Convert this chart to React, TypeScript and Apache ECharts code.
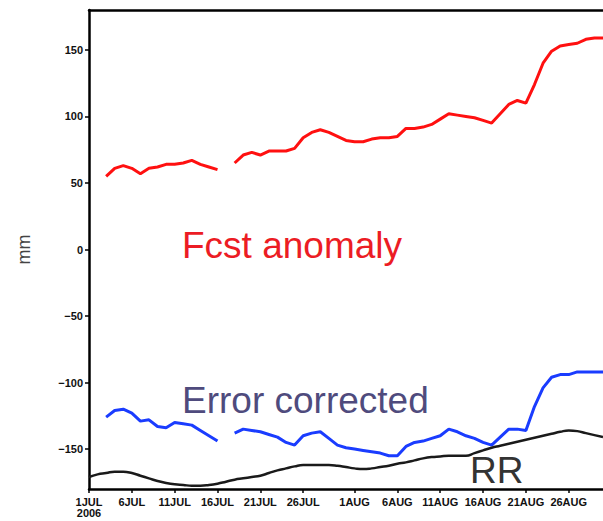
import React, { useEffect, useRef } from "react";
import * as echarts from "echarts";

// Days from 1 JUL 2006 to 30 AUG 2006
const dayLabels: string[] = [];
for (let d = 1; d <= 31; d++) dayLabels.push(d + "JUL");
for (let d = 1; d <= 30; d++) dayLabels.push(d + "AUG");

const tickDays = ["1JUL", "6JUL", "11JUL", "16JUL", "21JUL", "26JUL", "1AUG", "6AUG", "11AUG", "16AUG", "21AUG", "26AUG"];
const yTicks = [-150, -100, -50, 0, 50, 100, 150];

const fcstAnomaly: (number | null)[] = [
  null, null, 55, 61, 63, 61, 57, 61, 62, 64,
  64, 65, 67, 64, 62, 60, null, 65, 71, 73,
  71, 74, 74, 74, 76, 84, 88, 90, 88, 85,
  82, 81, 81, 83, 84, 84, 85, 91, 91, 92,
  94, 98, 102, 101, 100, 99, 97, 95, 102, 109,
  112, 110, 124, 140, 149, 153, 154, 155, 158, 159,
  159,
];

const errorCorrected: (number | null)[] = [
  null, null, -126, -121, -120, -123, -129, -128, -133, -134,
  -130, -131, -132, -136, -140, -144, null, -138, -135, -136,
  -137, -139, -141, -145, -147, -140, -138, -137, -142, -147,
  -149, -150, -151, -152, -153, -155, -155, -148, -145, -144,
  -142, -140, -135, -137, -140, -142, -145, -147, -141, -135,
  -135, -136, -118, -104, -96, -94, -94, -92, -92, -92,
  -92,
];

const rr: number[] = [
  -171, -169, -168, -167, -167, -168, -170, -172, -174, -175.5,
  -176.5, -177, -177.5, -177.5, -177, -176, -174.5, -173, -172, -171,
  -170, -168, -166, -164.5, -163, -162, -162, -162, -162, -162.5,
  -163.5, -164.5, -165, -164.5, -163.5, -162.5, -161, -160, -158.5, -157,
  -156, -155.5, -155, -155, -155, -153, -151, -149, -147.5, -146,
  -144.5, -143, -141.5, -140, -138.5, -137, -136, -136.5, -138, -139.5,
  -141,
];

export default function App() {
  const ref = useRef<HTMLDivElement>(null);
  useEffect(() => {
    if (!ref.current) return;
    const chart = echarts.init(ref.current, undefined, { renderer: "svg" });
    const isTick = (i: number) => tickDays.indexOf(dayLabels[i]) >= 0;
    const font = "'Liberation Sans', Arial, Helvetica, sans-serif";
    chart.setOption({
      animation: false,
      backgroundColor: "#ffffff",
      grid: { left: 89, right: 0, top: 10, bottom: 32, containLabel: false },
      xAxis: [
        {
          type: "category",
          data: dayLabels,
          boundaryGap: false,
          position: "bottom",
          axisLine: { show: true, onZero: false, lineStyle: { color: "#000", width: 2.5 } },
          axisTick: {
            show: true,
            interval: (i: number) => isTick(i),
            length: 4,
            lineStyle: { color: "#000", width: 1.5 },
          },
          axisLabel: {
            interval: (i: number) => isTick(i),
            formatter: (v: string) => (v === "1JUL" ? "1JUL\n2006" : v),
            color: "#111",
            fontSize: 11,
            fontWeight: "bold",
            fontFamily: font,
            margin: 7,
            lineHeight: 11,
          },
          splitLine: { show: false },
        },
        {
          type: "category",
          data: dayLabels,
          boundaryGap: false,
          position: "top",
          axisLine: { show: true, onZero: false, lineStyle: { color: "#000", width: 2.5 } },
          axisTick: { show: false },
          axisLabel: { show: false },
          splitLine: { show: false },
        },
      ],
      yAxis: {
        type: "value",
        min: -180,
        max: 180,
        name: "mm",
        nameLocation: "middle",
        nameRotate: 90,
        nameGap: 56,
        nameTextStyle: { color: "#444", fontSize: 18, fontFamily: font },
        axisLine: { show: true, lineStyle: { color: "#000", width: 2.5 } },
        axisTick: {
          show: true,
          length: 4,
          customValues: yTicks,
          lineStyle: { color: "#000", width: 1.5 },
        },
        axisLabel: {
          customValues: yTicks,
          formatter: (v: number) => (v < 0 ? "\u2212" + Math.abs(v) : String(v)),
          color: "#111",
          fontSize: 11,
          fontWeight: "bold",
          fontFamily: font,
          margin: 6,
        },
        splitLine: { show: false },
      },
      series: [
        {
          name: "Fcst anomaly",
          type: "line",
          data: fcstAnomaly,
          showSymbol: false,
          connectNulls: false,
          lineStyle: { color: "#ff1010", width: 3 },
          itemStyle: { color: "#ff1010" },
        },
        {
          name: "Error corrected",
          type: "line",
          data: errorCorrected,
          showSymbol: false,
          connectNulls: false,
          lineStyle: { color: "#1a3cff", width: 3 },
          itemStyle: { color: "#1a3cff" },
        },
        {
          name: "RR",
          type: "line",
          data: rr,
          smooth: true,
          showSymbol: false,
          lineStyle: { color: "#1a1a1a", width: 2.5 },
          itemStyle: { color: "#1a1a1a" },
        },
      ],
      graphic: [
        {
          type: "text",
          left: 182,
          top: 227,
          style: { text: "Fcst anomaly", fill: "#ec1c24", font: "37px " + font },
        },
        {
          type: "text",
          left: 182,
          top: 382,
          style: { text: "Error corrected", fill: "#4f4b7d", font: "37px " + font },
        },
        {
          type: "text",
          left: 470,
          top: 452,
          style: { text: "RR", fill: "#333", font: "37px " + font },
        },
      ],
    });
    return () => chart.dispose();
  }, []);
  return (
    <div
      ref={ref}
      style={{ position: "absolute", left: 0, top: 0, width: 603, height: 521 }}
    />
  );
}
